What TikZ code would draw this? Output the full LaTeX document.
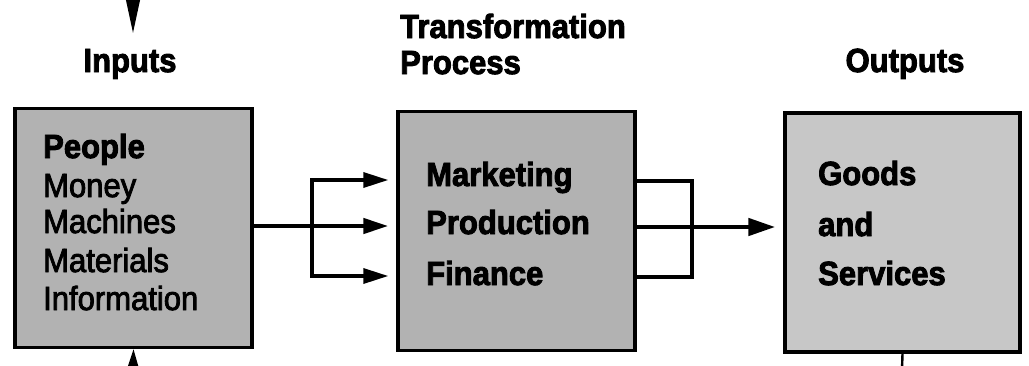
\documentclass[tikz,border=0pt]{standalone}
\usepackage{fontspec}
\usepackage{graphicx}
\setmainfont{Liberation Sans}
\newfontfamily\heavyfont{Liberation Sans Bold}[FakeBold=2.8]
\newfontfamily\medfont{Liberation Sans}[FakeBold=2.6]
\newcommand{\talltext}[1]{\scalebox{1}[1.08]{#1}}
\usetikzlibrary{arrows.meta}
\begin{document}
\begin{tikzpicture}[x=1pt,y=-1pt,
  box/.style={draw=black, line width=3.4pt, minimum width=237pt, minimum height=239pt, inner sep=0pt},
  lbl/.style={font=\heavyfont\fontsize{31}{31}\selectfont, inner sep=0pt, anchor=base west},
  lblr/.style={font=\medfont\fontsize{31}{31}\selectfont, inner sep=0pt, anchor=base west},
  title/.style={font=\heavyfont\fontsize{31}{31}\selectfont, inner sep=0pt, anchor=base},
  conn/.style={line width=3.4pt},
  tip/.style={-{Triangle[length=25pt,width=15pt]}},
  bigtip/.style={-{Triangle[length=27pt,width=17pt]}}
]
\useasboundingbox (0,0) rectangle (1029,365);
\clip (0,0) rectangle (1029,365);

% boxes
\node[box, fill=black!30] (inp) at (133.5,228) {};
\node[box, fill=black!30] (proc) at (516.5,231) {};
\node[box, fill=black!22, minimum width=235pt] (out) at (902.5,232.5) {};

% titles
\node[title] (tin) at (130,72) {\talltext{Inputs}};
\node[title, anchor=base west] (ttr) at (400,38) {\talltext{Transformation}};
\node[title, anchor=base west] (tpr) at (400,74) {\talltext{Process}};
\node[title] (tout) at (905,72) {\talltext{Outputs}};

% input list
\node[lbl] (people) at (43,158) {\talltext{People}};
\node[lblr] (money) at (43,197) {\talltext{Money}};
\node[lblr] (mach) at (43,233) {\talltext{Machines}};
\node[lblr] (mat) at (43,272) {\talltext{Materials}};
\node[lblr] (info) at (43,310) {\talltext{Information}};

% process list
\node[lbl] (mkt) at (426,186) {\talltext{Marketing}};
\node[lbl] (prod) at (426,234) {\talltext{Production}};
\node[lbl] (fin) at (426,285) {\talltext{Finance}};

% outputs list
\node[lbl] (goods) at (818,185) {\talltext{Goods}};
\node[lbl] (and) at (818,236) {\talltext{and}};
\node[lbl] (serv) at (818,285) {\talltext{Services}};

% top and bottom arrows at the inputs
\coordinate (topin) at (133,-4);
\coordinate (toptip) at (133,33);
\draw[line width=2pt, -{Triangle[length=34pt,width=14pt]}] (topin) -- (toptip);
\coordinate (botin) at (133,372);
\draw[line width=2pt, -{Triangle[length=22pt,width=13pt]}] (botin) -- (inp.south);

% left splitter
\coordinate (sL) at (312,226);
\coordinate (sLt) at (312,180);
\coordinate (sLb) at (312,276);
\draw[conn] (inp.east |- sL) -- (sL);
\draw[conn, line cap=rect] (sLt) -- (sLb);
\draw[conn, tip] (sLt) -- ([xshift=-8pt]proc.west |- sLt);
\draw[conn, tip, line width=4.4pt] (sL) -- ([xshift=-8pt]proc.west |- sL);
\draw[conn, tip] (sLb) -- ([xshift=-8pt]proc.west |- sLb);

% right merger
\coordinate (sR) at (692,227);
\coordinate (sRt) at (692,181);
\coordinate (sRb) at (692,277);
\draw[conn, line join=miter] (proc.east |- sRt) -- (sRt) -- (sRb) -- (proc.east |- sRb);
\draw[conn, bigtip, line width=4.6pt] (proc.east |- sR) -- ([xshift=-8pt]out.west |- sR);

% bottom line of outputs
\coordinate (botout) at (902,370);
\draw[line width=2.4pt] (out.south) -- (botout);
\end{tikzpicture}
\end{document}
